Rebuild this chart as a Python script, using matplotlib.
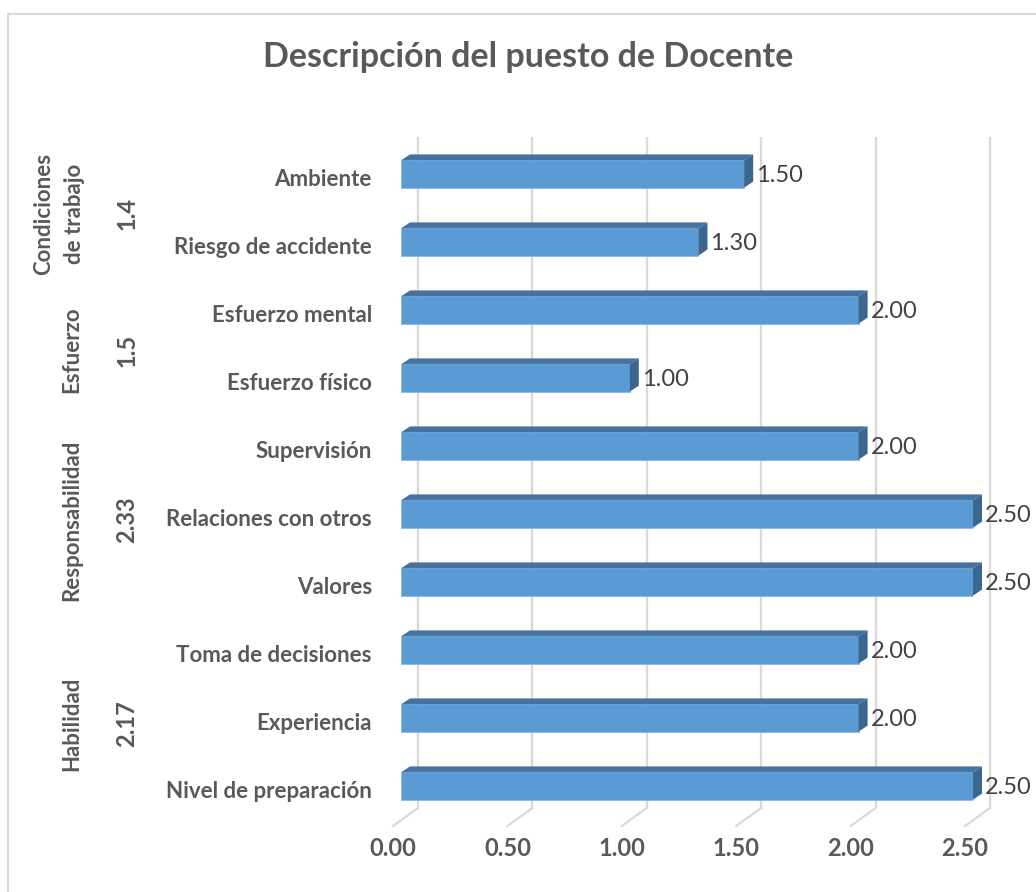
import matplotlib
matplotlib.use("Agg")
import matplotlib.pyplot as plt
from matplotlib.patches import Polygon, Rectangle
from matplotlib import transforms

# Job-description scores for the "Docente" position
categories = ["Nivel de preparación", "Experiencia", "Toma de decisiones",
              "Valores", "Relaciones con otros", "Supervisión",
              "Esfuerzo físico", "Esfuerzo mental",
              "Riesgo de accidente", "Ambiente"]
values = [2.50, 2.00, 2.00, 2.50, 2.50, 2.00, 1.00, 2.00, 1.30, 1.50]

groups = ["Habilidad", "Responsabilidad", "Esfuerzo", "Condiciones\nde trabajo"]
group_sizes = [3, 3, 2, 2]
group_scores = ["2.17", "2.33", "1.5", "1.4"]

x_ticks = [0.0, 0.5, 1.0, 1.5, 2.0, 2.5]
title = "Descripción del puesto de Docente"

plt.rcParams['font.family'] = ['Lato', 'DejaVu Sans']

W, H, DPI = 1036, 892, 100
fig = plt.figure(figsize=(W / DPI, H / DPI), dpi=DPI)
fig.patch.set_facecolor('white')

# Axes holds the front plane of the bars
ax = fig.add_axes([401 / W, (H - 820) / H, 572 / W, 680 / H])
ax.set_xlim(0, 2.5)
ax.set_ylim(-0.5, 9.5)
ax.axis('off')

pos = ax.get_position()
px_x = pos.width * W / 2.5      # pixels per x unit
px_y = pos.height * H / 10.0    # pixels per category


def dx(p):
    return p / px_x


def dy(p):
    return p / px_y


def pt(p):
    return p * 72.0 / DPI


GRID = '#D9D9D9'
TXT = '#595959'
y_bot, y_top = -0.5, 9.55

# back wall gridlines and floor lines (pseudo-3D)
for t in x_ticks:
    xb = t + dx(17)
    yb = y_bot + dy(12)
    ax.plot([xb, xb], [yb, y_top], color=GRID, lw=1.6, zorder=1, clip_on=False,
            solid_capstyle='butt')
    ax.plot([xb, t - dx(8)], [yb, y_bot - dy(6)], color=GRID, lw=1.6, zorder=1,
            clip_on=False)
    ax.text(t - dx(8), y_bot - dy(29), f"{t:.2f}", ha='center', va='center',
            fontsize=17, fontweight='bold', color=TXT)

# bars with top and side faces
h = 0.4
ypos = list(range(len(categories)))
ax.barh(ypos, values, height=h, color='#5B9BD5', edgecolor='#8DB6E0',
        linewidth=0.6, zorder=3)
ddx, ddy = dx(9), dy(6)
for y, v in zip(ypos, values):
    top = Polygon([(0, y + h / 2), (v, y + h / 2), (v + ddx, y + h / 2 + ddy),
                   (ddx, y + h / 2 + ddy)], closed=True, facecolor='#4573A0',
                  edgecolor='none', zorder=3, clip_on=False)
    side = Polygon([(v, y - h / 2), (v, y + h / 2), (v + ddx, y + h / 2 + ddy),
                    (v + ddx, y - h / 2 + ddy)], closed=True, facecolor='#3A668F',
                   edgecolor='none', zorder=3, clip_on=False)
    ax.add_patch(top)
    ax.add_patch(side)
    ax.annotate(f"{v:.2f}", (v, y), xytext=(pt(12), pt(-2)),
                textcoords='offset points', ha='left', va='center',
                fontsize=17, color='#404040', annotation_clip=False)

# category labels
for y, c in zip(ypos, categories):
    ax.annotate(c, (0, y), xytext=(pt(-29), pt(-6)), textcoords='offset points',
                ha='right', va='center', fontsize=16, fontweight='bold',
                color=TXT, annotation_clip=False)

# group labels with their average score
blend = transforms.blended_transform_factory(fig.transFigure, ax.transData)
shift = transforms.ScaledTranslation(0, -6 / DPI, fig.dpi_scale_trans)
start = 0
for g, n, s in zip(groups, group_sizes, group_scores):
    yc = start + (n - 1) / 2.0
    gx = 59 if '\n' in g else 72
    ax.text(gx / W, yc, g, transform=blend + shift, rotation=90, ha='center',
            va='center', multialignment='center', linespacing=1.55,
            fontsize=16, fontweight='bold', color=TXT)
    ax.text(127 / W, yc, s, transform=blend + shift, rotation=90, ha='center',
            va='center', fontsize=17, fontweight='bold', color=TXT)
    start += n

fig.text(528 / W, 1 - 57 / H, title, ha='center', va='center', fontsize=24.5,
         fontweight='bold', color=TXT)

# chart area border
fig.add_artist(Rectangle((8 / W, -0.1), 1.2, (H - 14) / H + 0.1,
                         transform=fig.transFigure, fill=False,
                         edgecolor=GRID, lw=1.5))

fig.savefig('out.png', dpi=DPI, facecolor='white')
